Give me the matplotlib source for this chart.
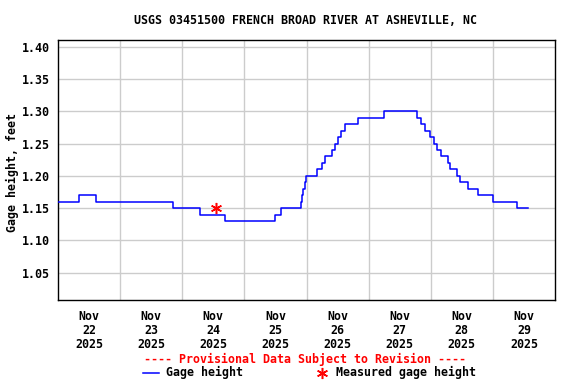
import pandas as pd
import matplotlib
matplotlib.use("Agg")
import matplotlib.pyplot as plt
from matplotlib.lines import Line2D

# gage height readings (step changes)
times = ["2025-11-22 00:00", "2025-11-22 08:00", "2025-11-22 14:30", "2025-11-23 20:15",
         "2025-11-24 06:45", "2025-11-24 16:35", "2025-11-25 11:45", "2025-11-25 14:15",
         "2025-11-25 22:00", "2025-11-25 22:20", "2025-11-25 22:45", "2025-11-25 23:15",
         "2025-11-25 23:55", "2025-11-26 04:00", "2025-11-26 06:05", "2025-11-26 07:20",
         "2025-11-26 09:45", "2025-11-26 10:50", "2025-11-26 12:00", "2025-11-26 13:10",
         "2025-11-26 14:50", "2025-11-26 20:00", "2025-11-27 06:05", "2025-11-27 18:35",
         "2025-11-27 20:10", "2025-11-27 21:40", "2025-11-27 23:45", "2025-11-28 01:15",
         "2025-11-28 02:20", "2025-11-28 03:50", "2025-11-28 06:30", "2025-11-28 07:30",
         "2025-11-28 10:05", "2025-11-28 11:15", "2025-11-28 14:15", "2025-11-28 18:20",
         "2025-11-29 00:05", "2025-11-29 09:20", "2025-11-29 13:40"]
heights = [1.16, 1.17, 1.16, 1.15, 1.14, 1.13, 1.14, 1.15,
           1.16, 1.17, 1.18, 1.19, 1.20, 1.21, 1.22, 1.23, 1.24, 1.25, 1.26, 1.27, 1.28, 1.29, 1.30,
           1.29, 1.28, 1.27, 1.26, 1.25, 1.24, 1.23, 1.22, 1.21, 1.20, 1.19, 1.18, 1.17, 1.16, 1.15,
           1.15]

meas_time = ["2025-11-24 13:10"]
meas_height = [1.15]

yticks = [1.05, 1.10, 1.15, 1.20, 1.25, 1.30, 1.35, 1.40]

t = pd.to_datetime(times)
tm = pd.to_datetime(meas_time)

FONT = "DejaVu Sans Mono"
FS = 8.35
W, H = 576, 384

fig = plt.figure(figsize=(5.76, 3.84), dpi=100)
ax = fig.add_axes([58 / W, 1 - 300 / H, (555 - 58) / W, (300 - 40) / H])

ax.plot(t, heights, color="#0000ff", lw=1.1, drawstyle="steps-post", zorder=3)
ax.plot(tm, meas_height, ls="none", marker=(6, 2, 0), ms=8, mew=1.1, color="#ff0000", zorder=4)

ax.set_xlim(pd.Timestamp("2025-11-22"), pd.Timestamp("2025-11-30"))
ax.set_ylim(1.0077, 1.4104)

# grid at midnight, labels at noon
days = pd.date_range("2025-11-22", "2025-11-30", freq="D")
ax.set_xticks(days[1:-1], minor=True)
ax.set_xticks(days[:-1] + pd.Timedelta(hours=12))
ax.set_xticklabels([d.strftime("%b\n%d\n%Y") for d in days[:-1]], fontfamily=FONT,
                   fontweight="bold", fontsize=FS, linespacing=1.12)
ax.set_yticks(yticks)
ax.set_yticklabels([f"{v:.2f}" for v in yticks], fontfamily=FONT, fontweight="bold", fontsize=FS)
ax.tick_params(axis="both", which="both", length=0)
ax.tick_params(axis="x", pad=7)
ax.tick_params(axis="y", pad=6)
ax.grid(True, which="minor", axis="x", color="#cccccc", lw=1)
ax.grid(True, which="major", axis="y", color="#cccccc", lw=1)
for s in ax.spines.values():
    s.set_linewidth(1)

fig.text(306 / W, 1 - 21 / H, "USGS 03451500 FRENCH BROAD RIVER AT ASHEVILLE, NC",
         ha="center", va="center", fontfamily=FONT, fontweight="bold", fontsize=FS)
fig.text(12 / W, 1 - 172 / H, "Gage height, feet", rotation=90, ha="center", va="center",
         fontfamily=FONT, fontweight="bold", fontsize=FS)
fig.text(305.5 / W, 1 - 359 / H, "---- Provisional Data Subject to Revision ----",
         ha="center", va="center", color="#ff0000", fontfamily=FONT, fontweight="bold", fontsize=FS)

# legend row
ly = 1 - 372.5 / H
fig.add_artist(Line2D([142.7 / W, 159.3 / W], [ly, ly], color="#0000ff", lw=1.1,
                      transform=fig.transFigure))
fig.text(165.5 / W, ly, "Gage height", ha="left", va="center",
         fontfamily=FONT, fontweight="bold", fontsize=FS)
fig.add_artist(Line2D([322.3 / W], [ly], ls="none", marker=(6, 2, 0), ms=8, mew=1.1,
                      color="#ff0000", transform=fig.transFigure))
fig.text(336.5 / W, ly, "Measured gage height", ha="left", va="center",
         fontfamily=FONT, fontweight="bold", fontsize=FS)

fig.savefig("out.png", dpi=100)
